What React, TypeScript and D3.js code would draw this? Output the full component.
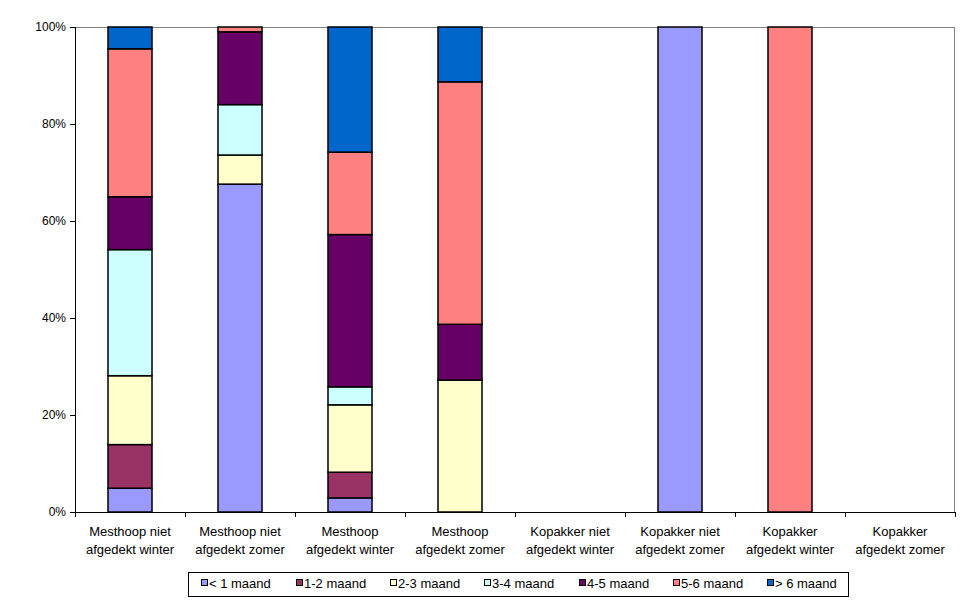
import React from "react";
import * as d3 from "d3";

const categories = [
  ["Mesthoop niet", "afgedekt winter"],
  ["Mesthoop niet", "afgedekt zomer"],
  ["Mesthoop", "afgedekt winter"],
  ["Mesthoop", "afgedekt zomer"],
  ["Kopakker niet", "afgedekt winter"],
  ["Kopakker niet", "afgedekt zomer"],
  ["Kopakker", "afgedekt winter"],
  ["Kopakker", "afgedekt zomer"],
];

const seriesNames = ["< 1 maand", "1-2 maand", "2-3 maand", "3-4 maand", "4-5 maand", "5-6 maand", "> 6 maand"];
const seriesColors = ["#9999FF", "#993366", "#FFFFCC", "#CCFFFF", "#660066", "#FF8080", "#0066CC"];

const lt1 = [4.9, 67.6, 2.9, 0, 0, 100, 0, 0];
const m12 = [9.0, 0, 5.3, 0, 0, 0, 0, 0];
const m23 = [14.2, 6.0, 13.9, 27.2, 0, 0, 0, 0];
const m34 = [26.0, 10.4, 3.7, 0, 0, 0, 0, 0];
const m45 = [10.9, 15.0, 31.4, 11.5, 0, 0, 0, 0];
const m56 = [30.5, 1.0, 17.0, 50.0, 0, 0, 100, 0];
const gt6 = [4.5, 0, 25.8, 11.3, 0, 0, 0, 0];

const seriesValues = [lt1, m12, m23, m34, m45, m56, gt6];
const yTicks = [0, 20, 40, 60, 80, 100];

const W = 970, H = 604;
const L = 75, R = 955, T = 27, B = 512;
const FONT = "'Liberation Sans', Arial, sans-serif";

export default function App() {
  const x = d3.scaleBand<number>().domain(d3.range(categories.length)).range([L, R]).paddingInner(0.6).paddingOuter(0.3);
  const y = d3.scaleLinear().domain([0, 100]).range([B, T]);

  const rows = categories.map((_, i) => {
    const r: any = { i };
    seriesNames.forEach((s, k) => (r[s] = seriesValues[k][i]));
    return r;
  });
  const stack = d3.stack<any>().keys(seriesNames)(rows);
  const step = (R - L) / categories.length;

  const legendX = 188, legendY = 572, legendW = 660, legendH = 24;
  const legendItems = [201, 296, 390, 484, 579, 673, 767];

  return (
    <svg width={W} height={H} style={{ position: "absolute", left: 0, top: 0, background: "#fff" }}>
      <rect x={0} y={0} width={W} height={H} fill="#fff" />
      {/* plot border top/right */}
      <line x1={L} x2={R} y1={T + 0.5} y2={T + 0.5} stroke="#808080" />
      <line x1={R - 0.5} x2={R - 0.5} y1={T} y2={B} stroke="#808080" />
      {stack.map((layer, k) =>
        layer.map((d, i) =>
          d[1] - d[0] > 0 ? (
            <rect
              key={k + "-" + i}
              x={x(i)!}
              y={y(d[1])}
              width={x.bandwidth()}
              height={y(d[0]) - y(d[1])}
              fill={seriesColors[k]}
              stroke="#000"
              strokeWidth={1.5}
            />
          ) : null
        )
      )}
      {/* axes */}
      <line x1={L + 0.5} x2={L + 0.5} y1={T} y2={B} stroke="#000" />
      <line x1={L} x2={R} y1={B + 0.5} y2={B + 0.5} stroke="#000" />
      {yTicks.map((t) => (
        <g key={t}>
          <line x1={L - 5} x2={L} y1={Math.round(y(t)) + 0.5} y2={Math.round(y(t)) + 0.5} stroke="#000" />
          <text x={L - 9} y={y(t)} dy="0.35em" textAnchor="end" fontFamily={FONT} fontSize={12}>
            {t + "%"}
          </text>
        </g>
      ))}
      {d3.range(categories.length + 1).map((i) => (
        <line key={i} x1={Math.round(L + i * step) + 0.5} x2={Math.round(L + i * step) + 0.5} y1={B} y2={B + 5} stroke="#000" />
      ))}
      {categories.map((c, i) => (
        <text key={i} x={L + step * (i + 0.5)} textAnchor="middle" fontFamily={FONT} fontSize={13}>
          <tspan x={L + step * (i + 0.5)} y={536}>{c[0]}</tspan>
          <tspan x={L + step * (i + 0.5)} y={554}>{c[1]}</tspan>
        </text>
      ))}
      {/* legend */}
      <rect x={legendX + 0.5} y={legendY + 0.5} width={legendW} height={legendH} fill="#fff" stroke="#000" />
      {seriesNames.map((s, k) => (
        <g key={s}>
          <rect x={legendItems[k] + 0.5} y={579.5} width={6} height={6} fill={seriesColors[k]} stroke="#000" />
          <text x={legendItems[k] + 8} y={588} fontFamily={FONT} fontSize={13}>
            {s}
          </text>
        </g>
      ))}
    </svg>
  );
}
